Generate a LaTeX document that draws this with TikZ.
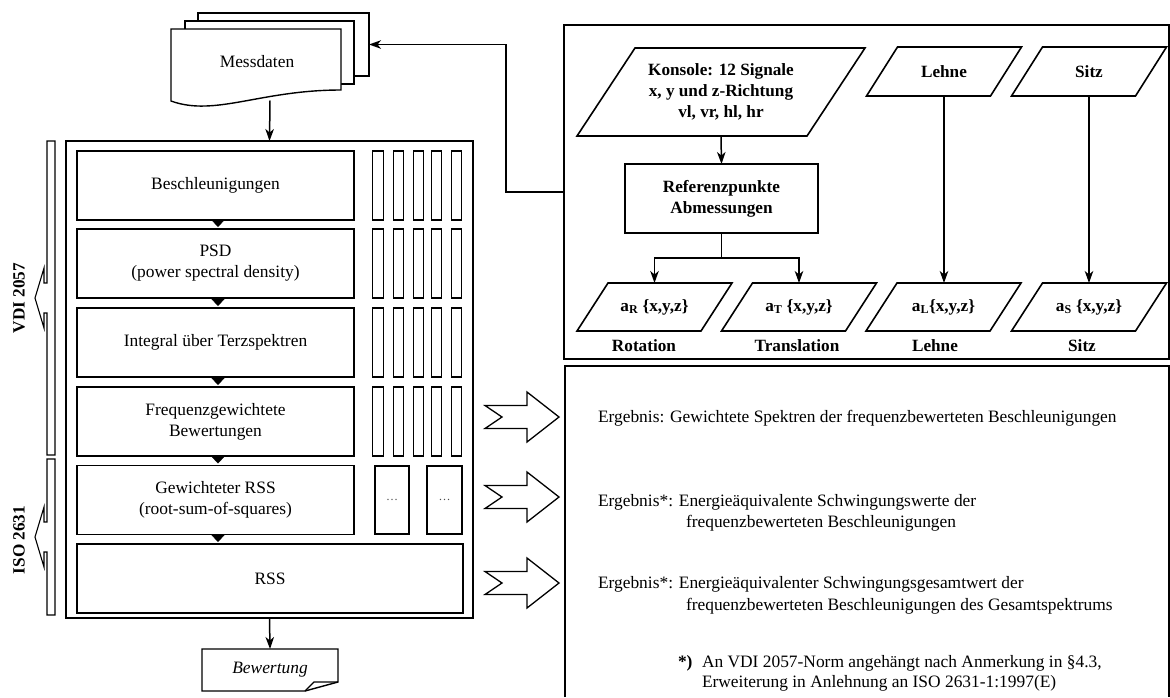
\documentclass[tikz,border=0pt]{standalone}
\usepackage{fontspec}
\setmainfont{Liberation Serif}
\usetikzlibrary{arrows.meta,calc}
\tikzset{
  every node/.style={font=\fontsize{17.4}{21}\selectfont, inner sep=0pt, outer sep=0pt},
  stage/.style={draw, line width=1.6pt, align=center, minimum width=277pt, minimum height=69pt},
  slot/.style={draw, line width=1.3pt, minimum width=10.5pt, minimum height=69pt},
  arr/.style={line width=1.5pt, -{Stealth[length=12pt,width=8.5pt,inset=3.5pt]}},
  tri/.style={line width=0.4pt, shorten >=2pt, -{Triangle[length=7pt,width=13pt]}},
  bold/.style={font=\bfseries\fontsize{17.2}{21}\selectfont, align=center},
  frame/.style={line width=2pt},
  pline/.style={line width=1.6pt},
  blockarrow/.style={line width=1.3pt, fill=white},
  bar/.style={line width=1.1pt},
  sheet/.style={draw, fill=white, line width=1.4pt},
}
\newcommand\parallelo[3]{\draw[pline] ($(#1.south)+(-#2-#3,0)$) -- ($(#1.south)+(#2-#3,0)$) -- ($(#1.north)+(#2+#3,0)$) -- ($(#1.north)+(-#2+#3,0)$) -- cycle;}
\begin{document}
\begin{tikzpicture}[x=1pt,y=-1pt]
\useasboundingbox (0,0) rectangle (1170,697);

% ---------- Messdaten (stacked documents)
\node[sheet, minimum width=171pt, minimum height=63pt] (md3) at (283.5,44.5) {};
\node[sheet, minimum width=169pt, minimum height=63pt] (md2) at (269.5,52.5) {};
\draw[sheet] (171,29) -- (341,29) -- (341,90) .. controls (260,90) and (215,117) .. (171,101) -- cycle;
\node (md) at (257,62) {Messdaten};
\coordinate (mdb) at (270,100.5);

% ---------- outer process box
\node[draw, frame, minimum width=407pt, minimum height=477pt] (outer) at (269.5,379.5) {};

\node[stage] (b1) at (215.5,185.5) {Beschleunigungen};
\node[stage] (b2) at (215.5,263.5) {PSD\\(power spectral density)};
\node[stage] (b3) at (215.5,342.5) {Integral über Terzspektren};
\node[stage] (b4) at (215.5,421.5) {Frequenzgewichtete\\Bewertungen};
\node[stage] (b5) at (215.5,500) {Gewichteter RSS\\(root-sum-of-squares)};
\node[stage, minimum width=386pt] (b6) at (270,578.5) {RSS};

\coordinate (tx) at (218,0);
\draw[tri] (b1.south -| tx) -- (b2.north -| tx);
\draw[tri] (b2.south -| tx) -- (b3.north -| tx);
\draw[tri] (b3.south -| tx) -- (b4.north -| tx);
\draw[tri] (b4.south -| tx) -- (b5.north -| tx);
\draw[tri] (b5.south -| tx) -- (b6.north -| tx);

\foreach \r/\yy in {1/185.5,2/263.5,3/342.5,4/421.5}{
  \foreach \c/\xx in {1/378,2/398.5,3/418.5,4/436.5,5/456.5}{
    \node[slot] (s\r\c) at (\xx,\yy) {};
  }
}
\node[draw, line width=1.3pt, minimum width=34pt, minimum height=68pt, font=\fontsize{12}{14}\selectfont, text=black!70] (d1) at (392,500) {\ldots};
\node[draw, line width=1.3pt, minimum width=35pt, minimum height=68pt, font=\fontsize{12}{14}\selectfont, text=black!70] (d2) at (444.5,500) {\ldots};

\draw[arr] (mdb) -- (outer.north);

% ---------- left brackets
\draw[bar] (47,141) -- (55,141) -- (55,455) -- (47,455) -- (47,313) -- (44,313) -- (44,328) -- (35,298) -- (44,268) -- (44,283) -- (47,283) -- cycle;
\draw[bar] (47,459) -- (55,459) -- (55,615) -- (47,615) -- (47,552) -- (44,552) -- (44,567) -- (35,537) -- (44,507) -- (44,522) -- (47,522) -- cycle;
\node[bold, rotate=90] (vdi) at (19,298) {VDI 2057};
\node[bold, rotate=90] (iso) at (19,540) {ISO 2631};

% ---------- Bewertung
\node[minimum width=136pt, minimum height=42pt, font=\itshape\fontsize{17.4}{21}\selectfont] (bew) at (270,670) {Bewertung};
\draw[line width=1.4pt] (202,649) -- (338,649) -- (338,682) -- (305,691) -- (202,691) -- cycle;
\draw[line width=1.1pt] (305,691) -- (314,682) -- (338,682);
\draw[arr] (outer.south) -- (bew.north);

% ---------- right top panel
\node[draw, frame, minimum width=605pt, minimum height=334pt] (panel) at (866.5,192) {};
\draw[arr] (panel.west) -- ++(-58,0) |- (md3.east);

\node[bold, minimum width=230pt, minimum height=88pt] (kon) at (721,92) {Konsole: 12 Signale\\x, y und z-Richtung\\vl, vr, hl, hr};
\parallelo{kon}{115}{29}
\node[bold, draw, line width=1.6pt, minimum width=193pt, minimum height=69pt] (ref) at (721.5,198.5) {Referenzpunkte\\Abmessungen};
\draw[arr] (kon.south) -- (ref.north);

\node[bold, minimum width=124pt, minimum height=49pt] (lehne) at (944,71.5) {Lehne};
\parallelo{lehne}{62}{15.5}
\node[bold, minimum width=124pt, minimum height=49pt] (sitz) at (1089,71.5) {Sitz};
\parallelo{sitz}{62}{15.5}

\node[bold, minimum width=124pt, minimum height=48pt] (aR) at (654.5,307) {a\textsubscript{R} \{x,y,z\}};
\parallelo{aR}{62}{15.5}
\node[bold, minimum width=124pt, minimum height=48pt] (aT) at (799,307) {a\textsubscript{T} \{x,y,z\}};
\parallelo{aT}{62}{15.5}
\node[bold, minimum width=124pt, minimum height=48pt] (aL) at (943.5,307) {a\textsubscript{L}\{x,y,z\}};
\parallelo{aL}{62}{15.5}
\node[bold, minimum width=124pt, minimum height=48pt] (aS) at (1089,307) {a\textsubscript{S} \{x,y,z\}};
\parallelo{aS}{62}{15.5}

\draw[pline] (ref.south) -- ++(0,25) coordinate (br);
\draw[arr] (br) -| (aR.north);
\draw[arr] (br) -| (aT.north);
\draw[arr] (lehne.south) -- (lehne.south |- aL.north);
\draw[arr] (sitz.south) -- (sitz.south |- aS.north);

\node[bold, anchor=base] (lr) at (644,351) {Rotation};
\node[bold, anchor=base] (lt) at (797,351) {Translation};
\node[bold, anchor=base] (ll) at (935,351) {Lehne};
\node[bold, anchor=base] (ls) at (1082,351) {Sitz};

% ---------- right lower panel
\draw[frame] (565,697) -- (565,366) -- (1168.5,366) -- (1168.5,697);

\foreach \c in {417,497,583}{
  \draw[blockarrow] (485,\c-11.5) -- (527,\c-11.5) -- (527,\c-25) -- (559,\c) -- (527,\c+25) -- (527,\c+11.5) -- (485,\c+11.5) -- (502,\c) -- cycle;
}

\node[anchor=base west] (e1) at (598,422) {Ergebnis: Gewichtete Spektren der frequenzbewerteten Beschleunigungen};
\node[anchor=base west] (e2a) at (598,506) {Ergebnis*: Energieäquivalente Schwingungswerte der};
\node[anchor=base west] (e2b) at (686,527) {frequenzbewerteten Beschleunigungen};
\node[anchor=base west] (e3a) at (598,588) {Ergebnis*: Energieäquivalenter Schwingungsgesamtwert der};
\node[anchor=base west] (e3b) at (686,610) {frequenzbewerteten Beschleunigungen des Gesamtspektrums};
\node[anchor=base west, font=\bfseries\fontsize{17.4}{21}\selectfont] (fn0) at (678,667) {*)};
\node[anchor=base west] (fn1) at (702,667) {An VDI 2057-Norm angehängt nach Anmerkung in §4.3,};
\node[anchor=base west] (fn2) at (702,687) {Erweiterung in Anlehnung an ISO 2631-1:1997(E)};
\end{tikzpicture}
\end{document}
